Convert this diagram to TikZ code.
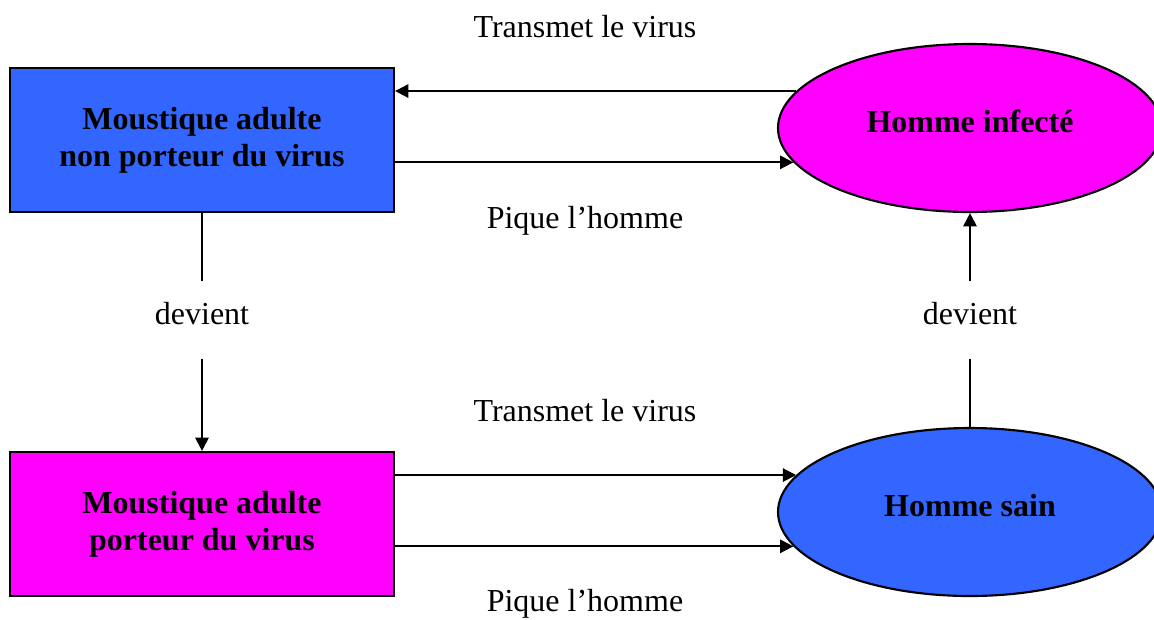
\documentclass[tikz,border=0pt]{standalone}
\usepackage{fontspec}
\setmainfont{Liberation Serif}
\usetikzlibrary{shapes.geometric,arrows.meta}
\definecolor{bleu}{HTML}{3366FF}
\definecolor{rose}{HTML}{FF00FF}

\begin{document}
\begin{tikzpicture}[x=0.375pt, y=-0.375pt,
  every node/.style={font=\fontsize{12}{13.9}\selectfont},
  boite/.style={draw=black, line width=0.8pt, minimum width=144pt, minimum height=54pt,
    align=center, font=\fontsize{12}{13.9}\selectfont\bfseries},
  rond/.style={ellipse, draw=black, line width=0.8pt, minimum width=144pt, minimum height=63pt,
    inner sep=0pt, text height=8pt, text depth=5pt, font=\fontsize{12}{13.9}\selectfont\bfseries},
  dev/.style={inner sep=0pt, text height=16.1pt, text depth=12.4pt},
  fleche/.style={line width=0.75pt, -{Triangle[length=5pt,width=5pt]}},
  trait/.style={line width=0.75pt}]
\useasboundingbox (0,0) rectangle (1154,619);

% Top row left to right
\node[boite, fill=bleu] (mnp) at (202,140) {Moustique adulte\\non porteur du virus};
\node[rond, fill=rose] (hi) at (970,128) {Homme infecté};

% Bottom row left to right
\node[boite, fill=rose] (mp) at (202,524) {Moustique adulte\\porteur du virus};
\node[rond, fill=bleu] (hs) at (970,512) {Homme sain};

% Labels
\node[anchor=base] (tv1) at (585,37) {Transmet le virus};
\node[anchor=base] (ph1) at (585,228) {Pique l'homme};
\node[anchor=base] (tv2) at (585,421) {Transmet le virus};
\node[anchor=base] (ph2) at (585,611) {Pique l'homme};
\node[dev] (dev1) at (202,320) {devient};
\node[dev] (dev2) at (970,320) {devient};

% Arrows between the top row
\draw[fleche] (hi.168.3) -- (hi.168.3 -| mnp.east);
\draw[fleche] (hi.191.7 -| mnp.east) -- (hi.191.7);

% Arrows between the bottom row
\draw[fleche] (hs.168.3 -| mp.east) -- (hs.168.3);
\draw[fleche] (hs.191.7 -| mp.east) -- (hs.191.7);

% Vertical arrows
\draw[trait] (mnp.south) -- (dev1.north);
\draw[fleche] (dev1.south) -- (mp.north);
\draw[trait] (hs.north) -- (dev2.south);
\draw[fleche] (dev2.north) -- (hi.south);
\end{tikzpicture}
\end{document}
